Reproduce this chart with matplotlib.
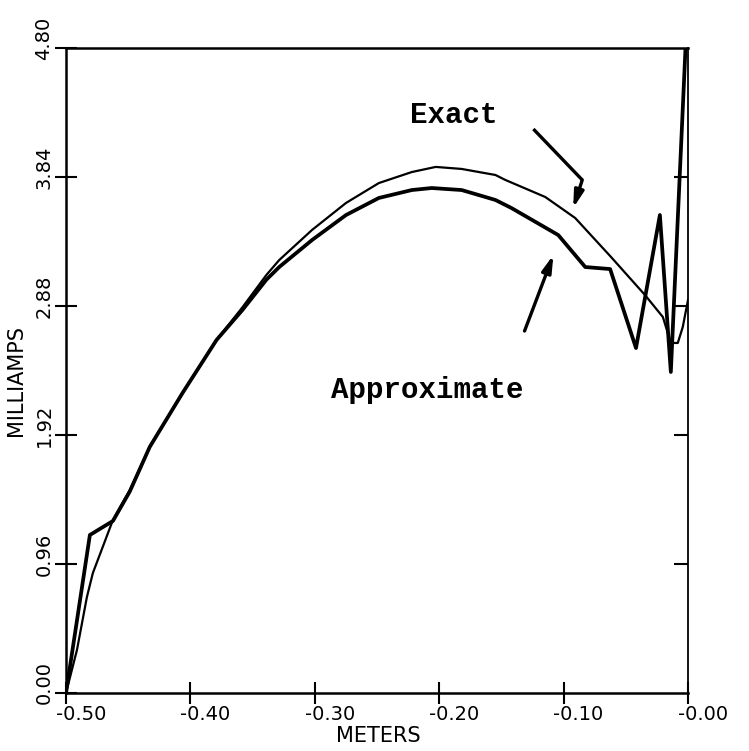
import matplotlib
matplotlib.use("Agg")
import matplotlib.pyplot as plt
import matplotlib.transforms as mtransforms

# Exact solution (thin curve)
exact_x = [-0.5000, -0.4912, -0.4832, -0.4784, -0.4623, -0.4487, -0.4327, -0.4063,
           -0.3790, -0.3582, -0.3390, -0.3286, -0.3022, -0.2749, -0.2485, -0.2220,
           -0.2028, -0.1820, -0.1548, -0.1468, -0.1147, -0.0907, -0.0619, -0.0346,
           -0.0202, -0.0138, -0.0082, -0.0042, 0.0000]
exact_y = [0.000, 0.320, 0.714, 0.893, 1.287, 1.511, 1.831, 2.233,
           2.627, 2.870, 3.110, 3.222, 3.446, 3.647, 3.795, 3.877,
           3.915, 3.900, 3.855, 3.818, 3.691, 3.535, 3.245, 2.962,
           2.798, 2.605, 2.605, 2.724, 2.925]

# Approximate solution (heavy curve)
approx_x = [-0.5000, -0.4808, -0.4623, -0.4487, -0.4327, -0.4063, -0.3790, -0.3582,
            -0.3390, -0.3286, -0.3022, -0.2749, -0.2485, -0.2220, -0.2060, -0.1820,
            -0.1683, -0.1548, -0.1419, -0.1043, -0.0826, -0.0626, -0.0418, -0.0226,
            -0.0138, -0.0020]
approx_y = [0.000, 1.176, 1.280, 1.500, 1.831, 2.233, 2.627, 2.850,
            3.075, 3.170, 3.371, 3.557, 3.684, 3.743, 3.758, 3.743,
            3.706, 3.669, 3.609, 3.408, 3.170, 3.155, 2.567, 3.557,
            2.389, 4.800]

x_ticks = [-0.50, -0.40, -0.30, -0.20, -0.10, 0.00]
x_tick_labels = ["-0.50", "-0.40", "-0.30", "-0.20", "-0.10", "-0.00"]
y_ticks = [0.00, 0.96, 1.92, 2.88, 3.84, 4.80]
y_tick_labels = ["0.00", "0.96", "1.92", "2.88", "3.84", "4.80"]

W, H = 749, 751
fig = plt.figure(figsize=(W / 100, H / 100), dpi=100)
ax = fig.add_axes([66 / W, 1 - 693 / H, (688 - 66) / W, (693 - 48) / H])

ax.plot(exact_x, exact_y, color="black", lw=1.6, solid_joinstyle="round")
ax.plot(approx_x, approx_y, color="black", lw=2.7, solid_joinstyle="round")

ax.set_xlim(-0.5, 0.0)
ax.set_ylim(0.0, 4.8)

for side in ("left", "bottom", "top"):
    ax.spines[side].set_linewidth(1.8)
ax.spines["right"].set_linewidth(1.3)

tick_font = dict(family="DejaVu Sans", size=14)
ax.set_xticks(x_ticks)
ax.set_xticklabels(x_tick_labels, **tick_font)
ax.set_yticks(y_ticks)
ax.set_yticklabels(y_tick_labels, rotation=90, va="center", **tick_font)
ax.tick_params(axis="both", direction="inout", length=16, width=1.5,
               color="black", pad=1)

# shift tick labels the way the plotter placed them
for lab in ax.get_xticklabels():
    lab.set_transform(lab.get_transform() +
                      mtransforms.ScaledTranslation(0.15, 0, fig.dpi_scale_trans))
for lab in ax.get_yticklabels():
    lab.set_transform(lab.get_transform() +
                      mtransforms.ScaledTranslation(0, 0.10, fig.dpi_scale_trans))

# short inward ticks on the right frame
axr = ax.twinx()
axr.set_ylim(0.0, 4.8)
axr.set_yticks(y_ticks[1:-1])
axr.set_yticklabels([])
axr.tick_params(axis="y", direction="in", length=10, width=1.5, color="black")
for s in axr.spines.values():
    s.set_visible(False)

# axis titles
fig.text(378 / W, 1 - 736 / H, "METERS", family="DejaVu Sans", size=15,
         ha="center", va="center")
fig.text(16 / W, 1 - 380 / H, "MILLIAMPS", family="DejaVu Sans", size=15,
         ha="center", va="center", rotation=90)

label_font = dict(family="Liberation Mono", size=21, weight="bold",
                  ha="center", va="center")
ax.text(-0.1883, 4.30, "Exact", **label_font)
ax.text(-0.2099, 2.255, "Approximate", **label_font)

arrow_props = dict(arrowstyle="-|>,head_length=1.0,head_width=0.28",
                   color="black", lw=2.4, shrinkA=0, shrinkB=0)
# bent pointer to the exact curve
ax.plot([-0.1243, -0.0850], [4.197, 3.818], color="black", lw=2.4,
        solid_capstyle="butt")
ax.annotate("", xy=(-0.0923, 3.609), xytext=(-0.0850, 3.818),
            arrowprops=arrow_props)
# pointer to the approximate curve
ax.annotate("", xy=(-0.1082, 3.260), xytext=(-0.1314, 2.694),
            arrowprops=arrow_props)

fig.savefig("out.png", dpi=100)
